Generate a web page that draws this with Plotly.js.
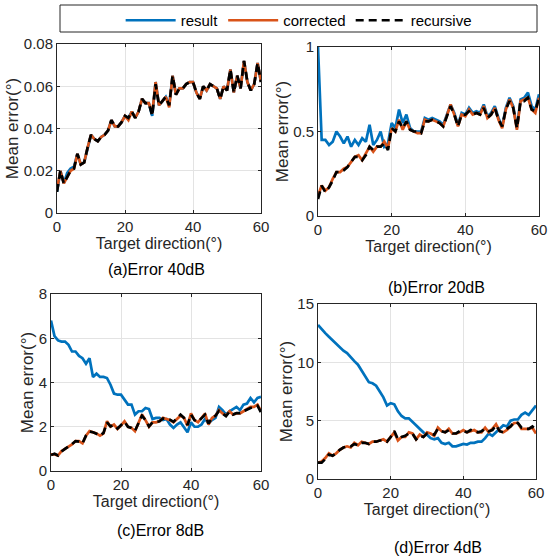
<!DOCTYPE html>
<html>
<head>
<meta charset="utf-8">
<script src="https://cdn.plot.ly/plotly-3.0.1.min.js"></script>
<style>html,body{margin:0;padding:0;background:#fff;}#chart{width:550px;height:557px;}</style>
</head>
<body>
<div id="chart"></div>
<script>
// Target directions (degrees)
const angles = [0,1,2,3,4,5,6,7,8,9,10,11,12,13,14,15,16,17,18,19,20,21,22,23,24,25,26,27,28,29,30,31,32,33,34,35,36,37,38,39,40,41,42,43,44,45,46,47,48,49,50,51,52,53,54,55,56,57,58,59,60];

// (a) Error 40dB
const aResult = [0.010,0.020,0.014,0.019,0.021,0.022,0.028,0.023,0.024,0.031,
                 0.037,0.035,0.034,0.036,0.037,0.039,0.044,0.041,0.041,0.043,
                 0.046,0.045,0.048,0.045,0.048,0.054,0.052,0.052,0.046,0.062,
                 0.051,0.053,0.055,0.051,0.065,0.056,0.059,0.059,0.061,0.062,
                 0.062,0.057,0.054,0.060,0.058,0.061,0.060,0.059,0.054,0.060,
                 0.058,0.068,0.057,0.065,0.059,0.072,0.062,0.058,0.061,0.071,0.062];
const aCorrected = [0.011,0.020,0.014,0.017,0.020,0.021,0.028,0.023,0.024,0.031,
                    0.037,0.035,0.034,0.036,0.037,0.039,0.044,0.041,0.041,0.043,
                    0.046,0.044,0.048,0.045,0.048,0.054,0.052,0.052,0.047,0.062,
                    0.051,0.053,0.055,0.050,0.065,0.056,0.059,0.059,0.061,0.062,
                    0.062,0.057,0.054,0.060,0.058,0.061,0.060,0.059,0.054,0.060,
                    0.058,0.068,0.057,0.065,0.059,0.072,0.062,0.058,0.061,0.071,0.062];
const aRecursive = [0.010,0.020,0.014,0.017,0.020,0.021,0.028,0.023,0.024,0.031,
                    0.037,0.035,0.034,0.036,0.037,0.039,0.044,0.041,0.041,0.043,
                    0.046,0.045,0.048,0.045,0.048,0.054,0.052,0.052,0.046,0.061,
                    0.051,0.053,0.055,0.051,0.065,0.056,0.059,0.059,0.061,0.062,
                    0.062,0.057,0.054,0.060,0.058,0.061,0.060,0.059,0.054,0.060,
                    0.058,0.068,0.057,0.065,0.059,0.072,0.062,0.058,0.061,0.071,0.062];

// (b) Error 20dB
const bResult = [1.00,0.45,0.45,0.42,0.44,0.50,0.47,0.43,0.47,0.41,
                 0.45,0.42,0.46,0.44,0.54,0.42,0.45,0.50,0.41,0.43,
                 0.55,0.52,0.63,0.55,0.60,0.52,0.50,0.50,0.50,0.58,
                 0.57,0.58,0.57,0.56,0.54,0.60,0.66,0.61,0.54,0.61,
                 0.60,0.64,0.61,0.62,0.61,0.66,0.59,0.61,0.65,0.58,
                 0.53,0.64,0.70,0.65,0.52,0.69,0.70,0.73,0.65,0.63,0.72];
const bCorrected = [0.12,0.18,0.15,0.17,0.22,0.26,0.26,0.28,0.29,0.32,
                    0.35,0.36,0.33,0.37,0.41,0.38,0.41,0.41,0.44,0.40,
                    0.52,0.50,0.57,0.51,0.56,0.51,0.50,0.49,0.49,0.57,
                    0.56,0.57,0.56,0.55,0.53,0.59,0.66,0.60,0.53,0.60,
                    0.59,0.63,0.60,0.61,0.60,0.65,0.58,0.60,0.64,0.57,
                    0.52,0.63,0.69,0.64,0.51,0.68,0.69,0.70,0.63,0.61,0.70];
const bRecursive = [0.10,0.18,0.14,0.17,0.21,0.26,0.26,0.27,0.29,0.32,
                    0.35,0.35,0.33,0.36,0.41,0.39,0.41,0.41,0.43,0.39,
                    0.52,0.50,0.56,0.52,0.56,0.51,0.50,0.50,0.49,0.56,
                    0.56,0.57,0.56,0.55,0.53,0.59,0.65,0.60,0.53,0.60,
                    0.60,0.62,0.60,0.61,0.60,0.64,0.58,0.60,0.64,0.57,
                    0.53,0.63,0.68,0.64,0.52,0.68,0.68,0.70,0.63,0.62,0.70];

// (c) Error 8dB
const cResult = [6.80,6.10,5.90,5.85,5.85,5.70,5.40,5.40,5.20,5.10,
                 4.85,5.10,4.25,4.40,4.25,4.25,4.20,3.90,3.50,3.45,
                 3.45,3.20,3.00,3.00,2.55,2.70,2.70,2.85,2.80,2.35,
                 2.40,2.40,2.30,2.35,2.10,1.95,2.10,2.20,2.00,1.75,
                 2.20,2.00,2.00,2.10,2.35,2.15,2.30,2.40,2.90,2.75,
                 2.55,2.70,2.80,2.90,2.75,3.00,3.05,3.30,3.10,3.30,3.35];
const cCorrected = [0.75,0.75,0.70,0.90,1.00,1.10,1.20,1.35,1.35,1.25,
                    1.60,1.80,1.75,1.70,1.60,1.70,2.25,2.00,2.10,1.90,
                    2.05,2.25,2.00,1.95,1.80,2.20,2.55,2.30,2.00,2.20,
                    2.20,2.25,2.40,2.35,2.30,2.20,2.35,2.50,2.40,2.05,
                    2.60,2.30,2.20,2.40,2.60,2.10,2.40,2.50,2.75,2.60,
                    2.50,2.70,2.55,2.60,2.60,2.70,2.80,2.90,2.90,3.00,2.70];
const cRecursive = [0.72,0.78,0.70,0.88,1.00,1.10,1.22,1.35,1.33,1.25,
                    1.60,1.78,1.75,1.68,1.60,1.72,2.20,2.02,2.08,1.92,
                    2.05,2.22,2.00,1.95,1.82,2.20,2.50,2.30,2.02,2.20,
                    2.22,2.25,2.38,2.35,2.32,2.22,2.38,2.55,2.40,2.08,
                    2.55,2.30,2.22,2.40,2.55,2.15,2.40,2.50,2.72,2.60,
                    2.48,2.68,2.55,2.62,2.62,2.70,2.78,2.85,2.90,2.95,2.65];

// (d) Error 4dB
const dResult = [13.2,12.8,12.5,12.2,11.9,11.6,11.3,11.0,10.8,10.4,
                 10.1,9.8,9.3,8.8,8.3,8.2,8.0,7.5,7.0,6.3,
                 6.5,6.4,5.8,5.4,5.2,5.2,4.9,4.6,4.3,4.0,
                 3.8,3.5,3.4,3.5,3.1,3.0,3.1,2.8,2.8,2.9,
                 3.0,2.95,3.1,3.1,3.2,3.2,3.5,3.9,3.7,4.0,
                 4.3,4.6,4.5,5.0,5.1,5.1,5.5,5.7,5.5,5.9,6.3];
const dCorrected = [1.4,1.5,1.8,2.2,2.0,2.2,2.5,2.7,2.8,2.7,
                    3.1,2.9,3.2,3.1,3.0,3.2,3.2,3.3,3.4,3.2,
                    3.6,4.0,3.3,3.6,3.6,4.0,3.9,3.4,3.8,3.6,
                    4.0,3.9,3.7,4.4,4.1,4.0,4.3,3.9,3.9,4.0,
                    4.2,4.0,4.1,4.2,4.0,4.0,4.4,4.0,4.3,4.7,
                    4.1,4.0,4.2,4.5,4.8,4.8,4.3,4.3,4.3,4.4,3.9];
const dRecursive = [1.4,1.4,1.7,2.1,2.0,2.2,2.5,2.7,2.8,2.8,
                    3.0,2.9,3.1,3.1,3.0,3.2,3.2,3.3,3.3,3.2,
                    3.6,4.1,3.4,3.6,3.7,3.9,3.9,3.4,3.7,3.6,
                    3.9,3.9,3.8,4.3,4.1,4.0,4.2,3.9,3.9,4.1,
                    4.1,4.0,4.2,4.1,4.0,4.1,4.3,4.1,4.2,4.6,
                    4.1,4.0,4.3,4.5,4.9,4.8,4.4,4.3,4.3,4.5,4.2];

const seriesNames = ['result','corrected','recursive'];
const panelCaptions = ['(a)Error 40dB','(b)Error 20dB','(c)Error 8dB','(d)Error 4dB'];
const yTickVals = [[0,0.02,0.04,0.06,0.08],[0,0.5,1],[0,2,4,6,8],[0,5,10,15]];
const yTickText = [['0','0.02','0.04','0.06','0.08'],['0','0.5','1'],['0','2','4','6','8'],['0','5','10','15']];
const yRanges = [[0,0.08],[0,1],[0,8],[0,15]];
const xTickVals = [0,20,40,60];

const panels = [
  [aResult,aCorrected,aRecursive],
  [bResult,bCorrected,bRecursive],
  [cResult,cCorrected,cRecursive],
  [dResult,dCorrected,dRecursive]
];

const W = 550, H = 557;
// pixel boxes of plot areas: [left, right, top, bottom]
const boxes = [[57,261,44,213],[318,539,47,216],[51,261,294,471],[318,536,304,479]];
const styles = [
  {color:'#0072BD', width:2.7, dash:'solid'},
  {color:'#D95319', width:2.7, dash:'solid'},
  {color:'#000000', width:2.7, dash:'8px,5px'}
];
const FONT = 'Liberation Sans, Arial, Helvetica, sans-serif';

const traces = [];
panels.forEach((p, i) => {
  const sfx = i === 0 ? '' : String(i + 1);
  p.forEach((ys, k) => {
    traces.push({
      x: angles, y: ys, type: 'scatter', mode: 'lines',
      name: seriesNames[k], showlegend: i === 0, legendgroup: seriesNames[k],
      line: styles[k], xaxis: 'x' + sfx, yaxis: 'y' + sfx, hoverinfo: 'skip'
    });
  });
});

const layout = {
  width: W, height: H,
  margin: {l:0, r:0, t:0, b:0},
  paper_bgcolor: '#ffffff', plot_bgcolor: '#ffffff',
  font: {family: FONT, size: 15, color: '#262626'},
  showlegend: true,
  legend: {
    orientation: 'h', x: 0.543, xanchor: 'center', y: 1 - 4/H, yanchor: 'top',
    bgcolor: 'rgba(0,0,0,0)', font: {family: FONT, size: 15, color: '#000'},
    itemwidth: 50, tracegroupgap: 0
  },
  shapes: [{
    type:'rect', xref:'paper', yref:'paper',
    x0: 60/W, x1: 537/W, y0: 1 - 32/H, y1: 1 - 5/H,
    line: {color:'#262626', width:1}, fillcolor:'rgba(0,0,0,0)'
  }],
  annotations: []
};

const capPos = [[156,269],[436,287],[160,530],[438,547]];
boxes.forEach((b, i) => {
  const sfx = i === 0 ? '' : String(i + 1);
  layout['xaxis' + sfx] = {
    domain: [b[0]/W, b[1]/W], anchor: 'y' + sfx, range: [0,60],
    tickvals: xTickVals, ticktext: xTickVals.map(String),
    showgrid: true, gridcolor: '#e3e3e3', gridwidth: 1, zeroline: false,
    showline: true, linecolor: '#262626', linewidth: 1, mirror: 'ticks',
    ticks: 'inside', ticklen: 3, tickcolor: '#262626',
    tickfont: {family: FONT, size: 15, color: '#262626'},
    title: {text: 'Target direction(°)', font: {family: FONT, size: 16, color: '#262626'}, standoff: 0},
    automargin: false, fixedrange: true
  };
  layout['yaxis' + sfx] = {
    domain: [1 - b[3]/H, 1 - b[2]/H], anchor: 'x' + sfx, range: yRanges[i],
    tickvals: yTickVals[i], ticktext: yTickText[i],
    showgrid: true, gridcolor: '#e3e3e3', gridwidth: 1, zeroline: false,
    showline: true, linecolor: '#262626', linewidth: 1, mirror: 'ticks',
    ticks: 'inside', ticklen: 3, tickcolor: '#262626',
    tickfont: {family: FONT, size: 15, color: '#262626'},
    title: {text: 'Mean error(°)', font: {family: FONT, size: 17, color: '#262626'}, standoff: 0},
    automargin: false, fixedrange: true
  };
  layout.annotations.push({
    text: panelCaptions[i], xref:'paper', yref:'paper',
    x: capPos[i][0]/W, y: 1 - capPos[i][1]/H, xanchor:'center', yanchor:'middle',
    showarrow: false, font: {family: FONT, size: 16, color: '#000'}
  });
});

Plotly.newPlot('chart', traces, layout, {displayModeBar: false, staticPlot: true});
</script>
</body>
</html>
